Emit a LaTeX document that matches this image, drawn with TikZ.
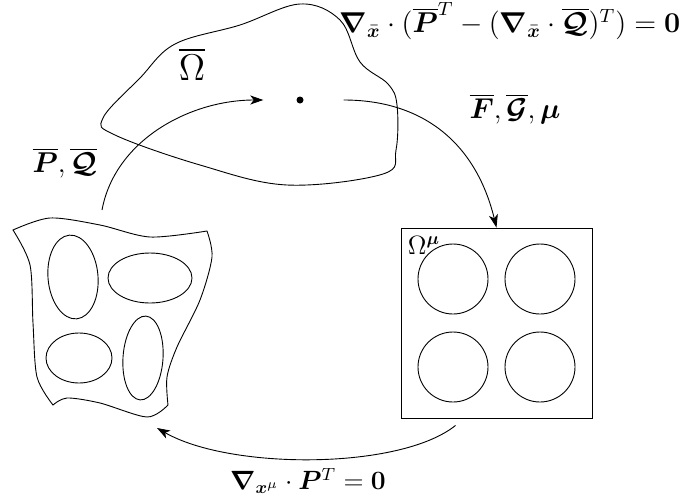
\RequirePackage{fix-cm}
\documentclass[tikz,border=0pt]{standalone}
\usepackage{amsmath,amssymb,bm}
\usetikzlibrary{arrows.meta,positioning,calc}

\begin{document}
\begin{tikzpicture}[x=1pt, y=-1pt,
    outline/.style={line width=0.9pt},
    arr/.style={-{Stealth[length=13pt,width=9pt,inset=3.5pt]}, line width=0.9pt},
    lbl/.style={inner sep=0pt, font=\fontsize{12}{14}\selectfont, scale=2.39, transform shape},
    hole/.style={draw, line width=0.9pt}
]
\useasboundingbox (0,0) rectangle (680,501);

% reference domain
\draw[outline] plot[smooth cycle, tension=0.6] coordinates {(103,118) (140,78) (175,44) (240,25) (300,4) (340,20) (360,62) (388,84) (397,105) (396,150) (383,174) (287,185) (200,165) (115,135)};
\node[circle, fill, inner sep=0pt, minimum size=7pt] (pt) at (300,100) {};
\node[lbl, scale=3.1/2.39] (omegabar) at (192,64) {$\overline{\Omega}$};

% deformed sheet
\draw[outline] plot[smooth] coordinates {(13,230) (50,218) (100,225) (150,237) (207,231)}
    -- plot[smooth] coordinates {(207,231) (212,257) (200,300) (177,347) (167,377) (168,405)}
    -- plot[smooth] coordinates {(168,405) (147,417) (100,403) (67,398) (53,405)}
    -- plot[smooth] coordinates {(53,405) (37,377) (33,323) (30,265) (13,230)} -- cycle;
\draw[hole] (73,277) circle[x radius=25, y radius=42, rotate=5];
\draw[hole] (150,278) circle[x radius=42, y radius=25];
\draw[hole] (79,358) circle[x radius=33, y radius=25];
\draw[hole] (143,358) circle[x radius=20, y radius=42, rotate=-4];

% micro cell
\node[draw, line width=0.9pt, minimum width=191pt, minimum height=190pt, inner sep=0pt] (box) at (496.5,323) {};
\foreach \cx/\cy in {453/279, 540/279, 453/367, 540/367}
    \draw[hole] (\cx,\cy) circle[radius=35];
\node[lbl, scale=2.2/2.39] (omegamu) at (424,245) {$\Omega^{\bm\mu}$};

% labels
\node[lbl] (eqtop) at (510,21) {$\bm\nabla_{\bar{\bm x}}\cdot(\overline{\bm P}^T-(\bm\nabla_{\bar{\bm x}}\cdot\overline{\bm{\mathcal Q}})^T)=\bm 0$};
\node[lbl] (fgmu) at (515,109) {$\overline{\bm F},\overline{\bm{\mathcal G}},\bm\mu$};
\node[lbl] (pq) at (65,163) {$\overline{\bm P},\overline{\bm{\mathcal Q}}$};
\node[lbl, scale=2.2/2.39] (eqbot) at (308,481) {$\bm\nabla_{\bm x^{\mu}}\cdot\bm P^T=\bm 0$};

% arrows
\coordinate (sheettop) at (102,210);
\coordinate[left=33pt of pt] (ptin);
\coordinate[right=40pt of pt] (ptout);
\coordinate (boxout) at ($(box.south)+(-41,7)$);
\coordinate (sheetin) at (157,428);
\draw[arr] (sheettop) .. controls (115,140) and (190,100) .. (ptin);
\draw[arr] (ptout) .. controls (420,100) and (475,140) .. (box.north);
\draw[arr] (boxout) .. controls (400,470) and (230,470) .. (sheetin);
\end{tikzpicture}
\end{document}
